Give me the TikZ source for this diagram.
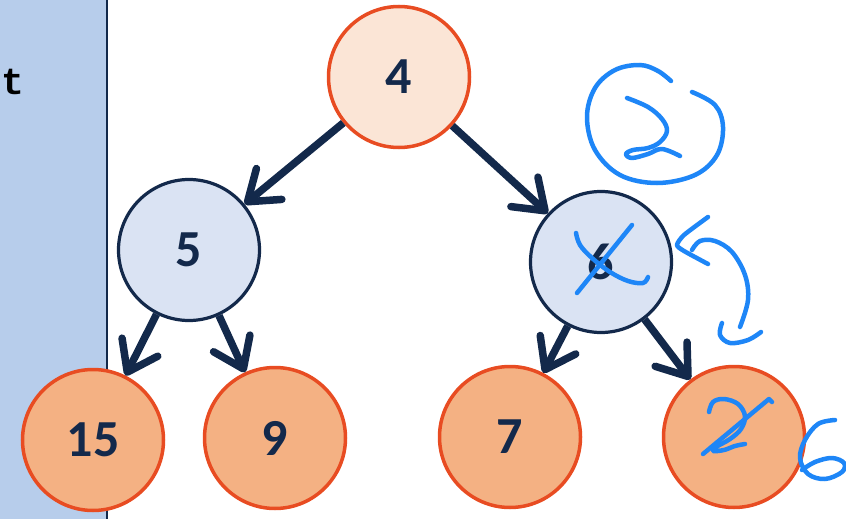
\documentclass[tikz,border=0pt]{standalone}
\usepackage{fontspec}
\setmainfont{Carlito}
\setmonofont{Liberation Mono}
\usetikzlibrary{arrows.meta}
\definecolor{navy}{HTML}{13294B}
\definecolor{peach}{HTML}{FBE5D6}
\definecolor{apricot}{HTML}{F4B183}
\definecolor{rim}{HTML}{E84C22}
\definecolor{paleblue}{HTML}{DAE3F3}
\definecolor{strip}{HTML}{B7CDEB}
\definecolor{ink}{HTML}{1E86F7}
\tikzset{
  keynode/.style={circle, minimum size=141pt, inner sep=0pt, text=navy,
    font=\fontsize{52}{52}\selectfont\bfseries},
  rootkey/.style={keynode, fill=peach, draw=rim, line width=3.5pt},
  leafkey/.style={keynode, fill=apricot, draw=rim, line width=3.5pt},
  innerkey/.style={keynode, fill=paleblue, draw=navy, line width=3.2pt},
  edge/.style={draw=navy, line width=7.5pt,
    -{Straight Barb[length=28pt,width=40pt,round]}},
  pen/.style={draw=ink, line width=4.5pt, line cap=round, line join=round},
}
\begin{document}
\begin{tikzpicture}[x=1pt,y=-1pt]
\useasboundingbox (0,0) rectangle (846,519);

% side panel
\fill[strip] (0,0) rectangle (107,519);
\draw[navy, line width=2pt] (107,0) -- (107,519);
\node[anchor=base west, inner sep=0pt, font=\fontsize{38}{38}\selectfont\ttfamily\bfseries]
  (tail) at (1,95) {t};

% heap nodes
\node[rootkey]  (n4)  at (399,77)  {4};
\node[innerkey] (n5)  at (189,250) {5};
\node[innerkey] (n6)  at (601,262) {6};
\node[leafkey]  (n15) at (93,440)  {15};
\node[leafkey]  (n9)  at (275,438) {9};
\node[leafkey]  (n7)  at (510,437) {7};
\node[leafkey]  (n2)  at (734,437) {};

% child links
\draw[edge] (n4) -- (n5);
\draw[edge] (n4) -- (n6);
\draw[edge] (n5) -- (n15);
\draw[edge] (n5) -- (n9);
\draw[edge] (n6) -- (n7);
\draw[edge] (n6) -- (n2);

% pen marks: circled 2
\draw[pen] plot[smooth, tension=0.6] coordinates {(671,81) (658,71) (640,65) (615,70) (595,88)
  (587,117) (595,150) (620,175) (657,183) (695,175) (717,155) (723,127) (715,105) (692,92)};
\draw[pen] plot[smooth, tension=0.6] coordinates {(627,98) (648,107) (662,119) (667,131)
  (660,142) (648,148) (633,150) (626,154) (632,158) (648,154) (662,149) (680,156)};

% pen marks: struck-out 6
\draw[pen] (632,225) -- (577,293);
\draw[pen] plot[smooth, tension=0.6] coordinates {(576,233) (580,245) (592,258) (610,272)
  (628,281) (643,283) (648,277)};

% pen marks: swap arrow
\draw[pen] plot[smooth, tension=0.4] coordinates {(708,217) (684,235) (677,245) (684,251) (708,264)};
\draw[pen] plot[smooth, tension=0.6] coordinates {(692,250) (700,241) (715,241) (732,252)
  (745,275) (748,300) (740,327)};
\draw[pen] plot[smooth, tension=0.6] coordinates {(722,323) (720,335) (730,343) (748,340) (761,332)};

% pen marks: struck-out 2 and new 6
\draw[pen] plot[smooth, tension=0.6] coordinates {(709,412) (713,402) (724,399) (738,404)
  (745,416) (741,429) (730,439) (716,447) (713,451) (724,450) (735,446) (745,444)};
\draw[pen] (772,402) -- (769,399) -- (703,454);
\draw[pen] plot[smooth, tension=0.6] coordinates {(835,420) (818,424) (805,440) (800,458)
  (808,474) (825,479) (842,472) (844,463) (832,458) (815,462) (802,470)};
\end{tikzpicture}
\end{document}
